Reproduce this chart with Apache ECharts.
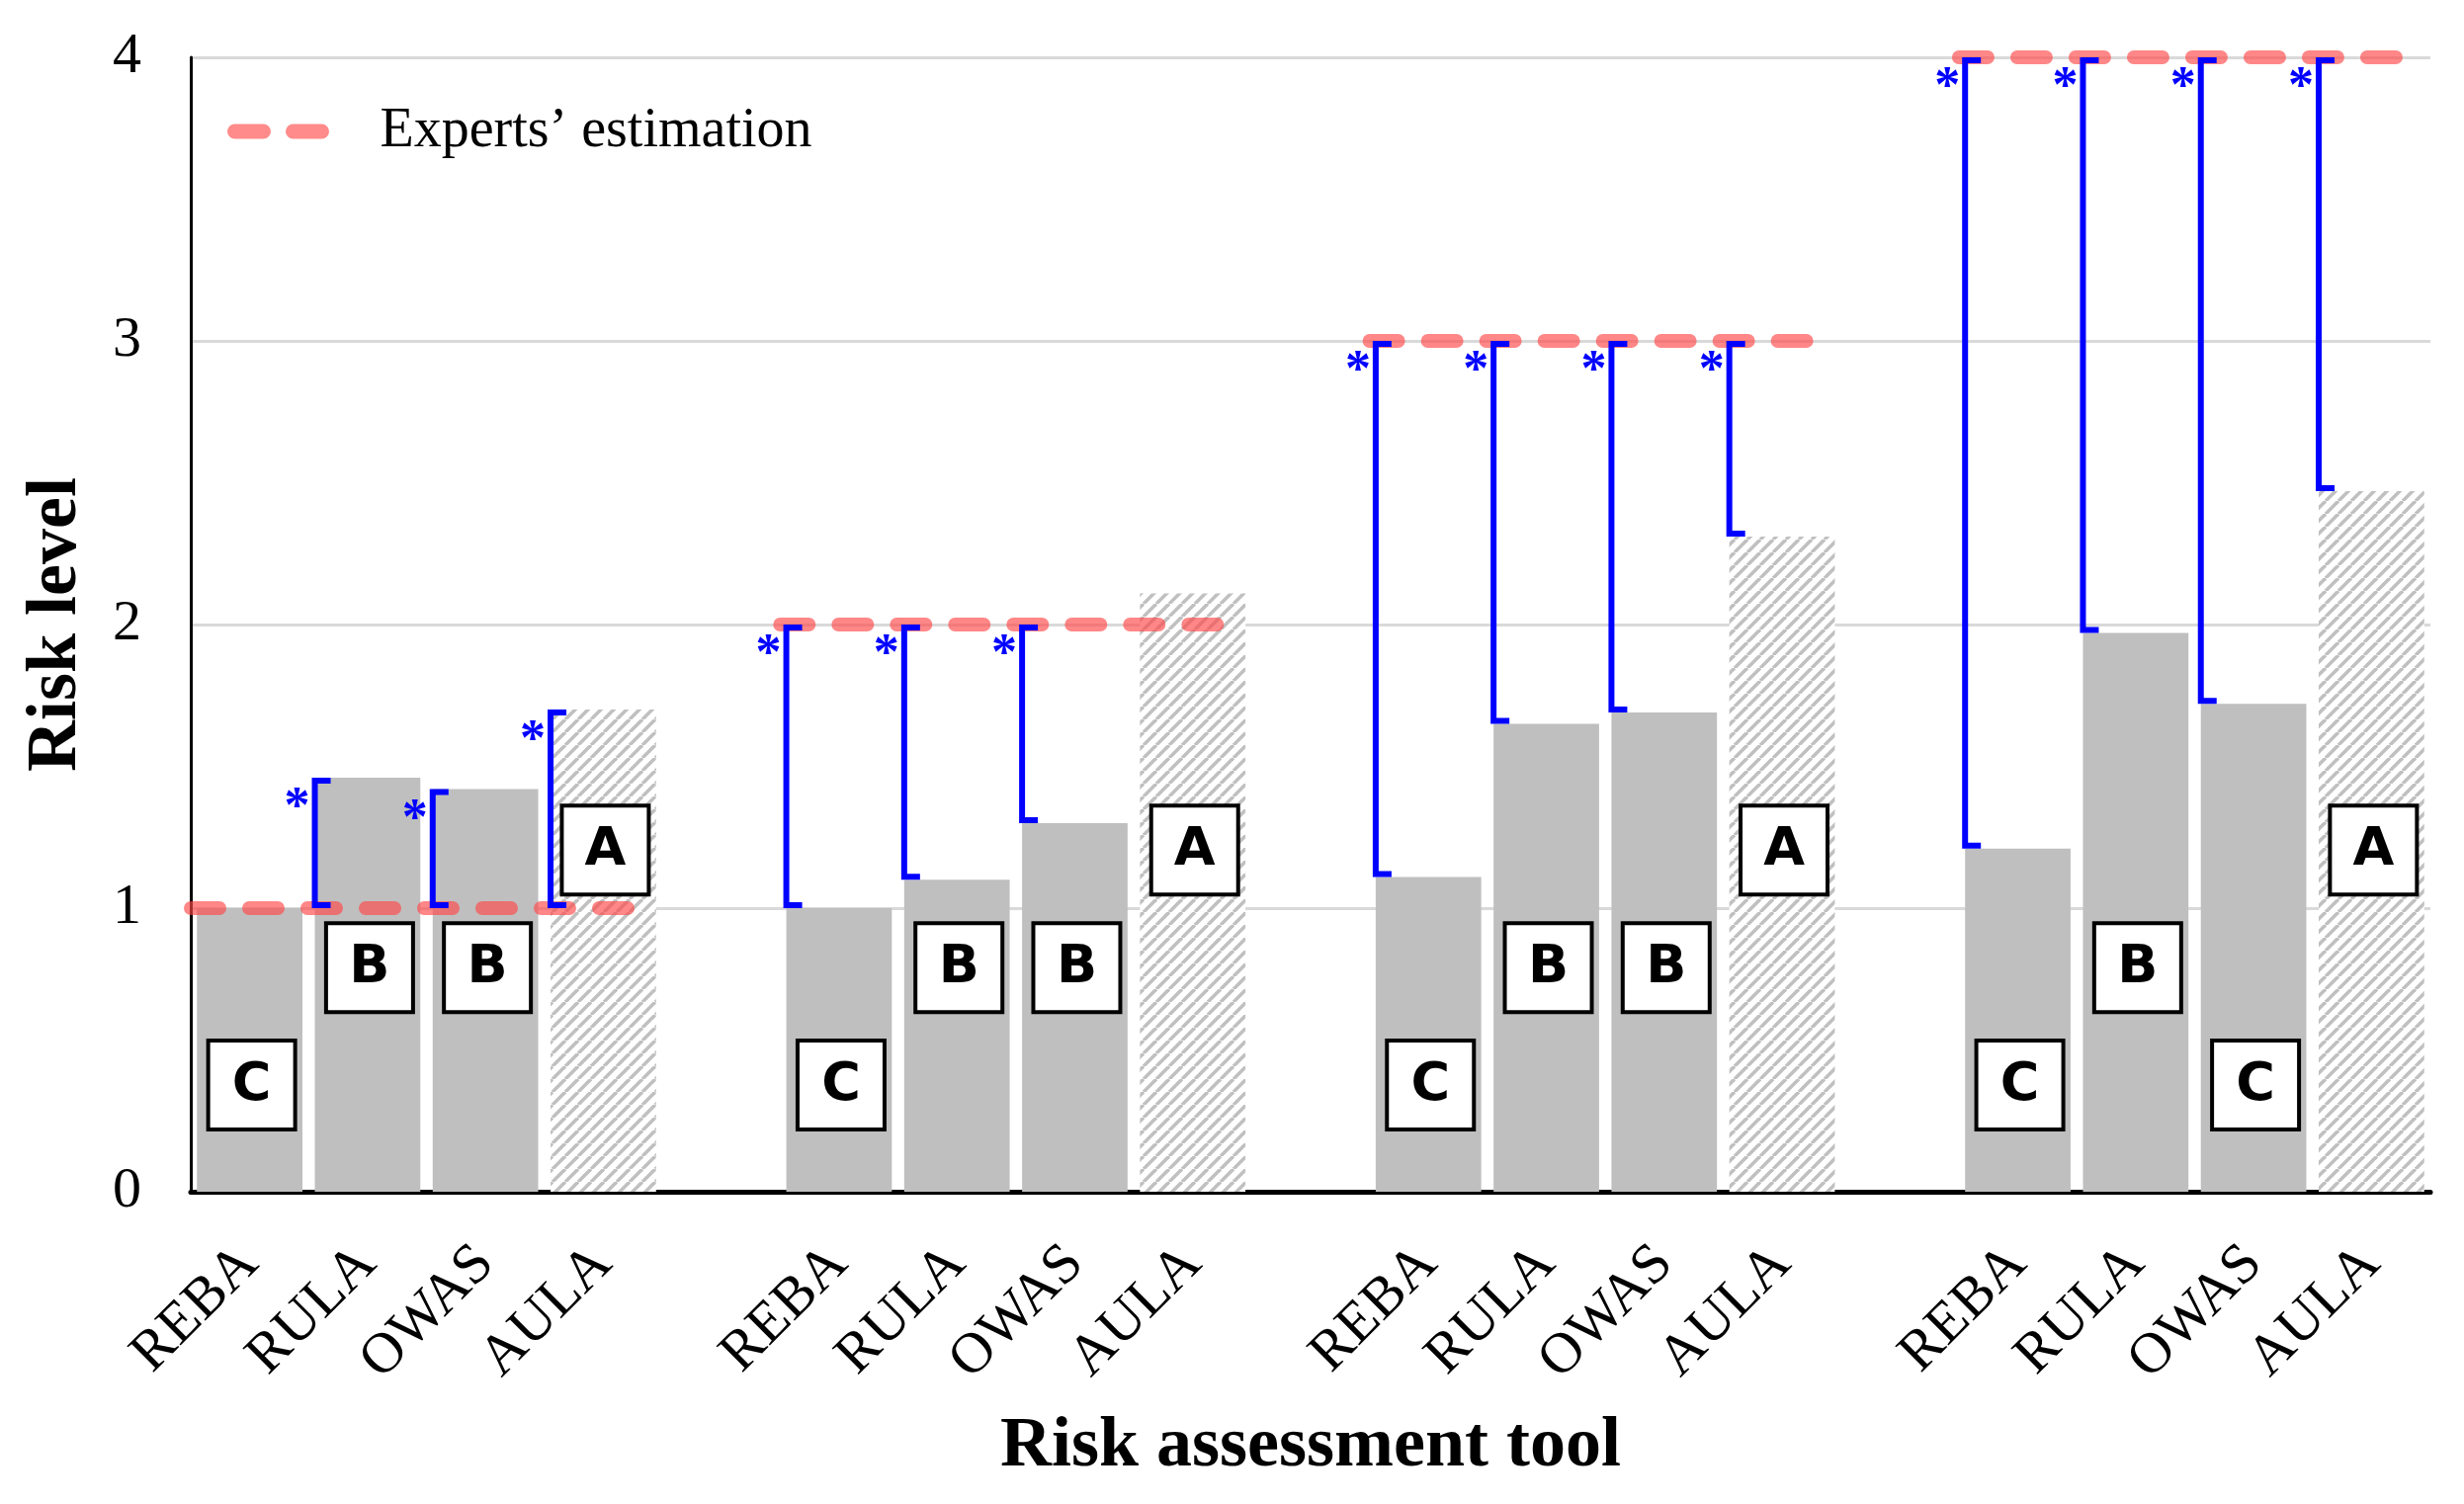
<!DOCTYPE html>
<html>
<head>
<meta charset="utf-8">
<script src="https://cdn.jsdelivr.net/npm/echarts@6/dist/echarts.min.js"></script>
<style>
html,body{margin:0;padding:0;background:#fff;}
#chart{width:2493px;height:1522px;}
</style>
</head>
<body>
<div id="chart"></div>
<script>
// ---------------- data ----------------
const tools = ['REBA', 'RULA', 'OWAS', 'AULA'];
const experts = [1, 2, 3, 4];                 // experts' estimation per group
const reba = [1.00, 1.00, 1.11, 1.21];
const rula = [1.46, 1.10, 1.65, 1.97];
const owas = [1.42, 1.30, 1.69, 1.72];
const aula = [1.70, 2.11, 2.31, 2.47];
const rebaGrade = ['C', 'C', 'C', 'C'];
const rulaGrade = ['B', 'B', 'B', 'B'];
const owasGrade = ['B', 'B', 'B', 'C'];
const aulaGrade = ['A', 'A', 'A', 'A'];
const rebaSig = [false, true, true, true];
const rulaSig = [true, true, true, true];
const owasSig = [true, true, true, true];
const aulaSig = [true, false, true, true];
const yTicks = [0, 1, 2, 3, 4];
const expertName = 'Experts\u2019 estimation';

// ---------------- build ----------------
const values = [reba, rula, owas, aula];
const grades = [rebaGrade, rulaGrade, owasGrade, aulaGrade];
const sigs = [rebaSig, rulaSig, owasSig, aulaSig];
const SLOT = tools.length + 1;
const nSlots = experts.length * SLOT - 1;
const categories = [];
for (let i = 0; i < nSlots; i++) categories.push(i % SLOT < tools.length ? tools[i % SLOT] : '');

const BAR_RATIO = 0.895;
const tile = document.createElement('canvas');
tile.width = 13; tile.height = 13;
(function () {
  const c = tile.getContext('2d');
  c.fillStyle = '#ffffff'; c.fillRect(0, 0, 13, 13);
  c.strokeStyle = '#c0c0c0'; c.lineWidth = 3.6;
  for (const o of [-13, 0, 13]) { c.beginPath(); c.moveTo(o, 13); c.lineTo(o + 13, 0); c.stroke(); }
})();
const hatch = { image: tile, repeat: 'repeat' };

const barData = [];
const bracketData = [];
const gradeData = [];
const gradeLetters = [];
for (let i = 0; i < nSlots; i++) barData.push('-');
experts.forEach((e, g) => {
  tools.forEach((t, k) => {
    const slot = g * SLOT + k;
    const v = values[k][g];
    barData[slot] = t === 'AULA'
      ? { value: v, itemStyle: { color: hatch } }
      : { value: v, itemStyle: { color: '#bfbfbf' } };
    if (sigs[k][g]) bracketData.push([slot, v, e]);
    gradeData.push([slot, 0]);
    gradeLetters.push(grades[k][g]);
  });
});
const letterLevel = { A: 1.205, B: 0.79, C: 0.376 };

const dashColor = 'rgba(255,70,70,0.65)';
const dashStyle = { color: dashColor, width: 14, type: [29, 30], cap: 'round' };
const lineSeries = experts.map((e, g) => ({
  type: 'line',
  name: expertName,
  xAxisIndex: 1,
  data: [[g * SLOT, e], [g * SLOT + 3.82, e]],
  symbol: 'none',
  z: 3,
  lineStyle: dashStyle,
  itemStyle: { color: dashColor },
  silent: true
}));

const chart = echarts.init(document.getElementById('chart'), null, { renderer: 'canvas' });
chart.setOption({
  animation: false,
  backgroundColor: '#ffffff',
  grid: { left: 193, right: 34, top: 58, bottom: 316, containLabel: false },
  legend: {
    show: true, left: 225, top: 100, itemWidth: 102, itemHeight: 15,
    data: [expertName],
    itemStyle: { opacity: 0 },
    lineStyle: { color: 'rgba(255,100,100,0.75)', width: 15, type: [29, 30], cap: 'round' },
    textStyle: { fontFamily: 'Liberation Serif', fontSize: 56, color: '#000', padding: [0, 0, 0, 40] }
  },
  xAxis: [{
    type: 'category', data: categories, boundaryGap: true,
    axisLine: { show: true, lineStyle: { color: '#000', width: 5 } },
    axisTick: { show: false },
    axisLabel: { interval: 0, rotate: 45, margin: 64, fontFamily: 'Liberation Serif', fontSize: 58, color: '#000' },
    name: 'Risk assessment tool', nameLocation: 'middle', nameGap: 222,
    nameTextStyle: { fontFamily: 'Liberation Serif', fontWeight: 'bold', fontSize: 72, color: '#000' }
  }, {
    type: 'value', min: 0, max: nSlots, show: false
  }],
  yAxis: {
    type: 'value', min: yTicks[0], max: yTicks[yTicks.length - 1], interval: 1,
    axisLine: { show: true, lineStyle: { color: '#000', width: 3 } },
    axisTick: { show: false },
    splitLine: { lineStyle: { color: '#d9d9d9', width: 3 } },
    axisLabel: { margin: 50, fontFamily: 'Liberation Serif', fontSize: 58, color: '#000' },
    name: 'Risk level', nameLocation: 'middle', nameGap: 100,
    nameTextStyle: { fontFamily: 'Liberation Serif', fontWeight: 'bold', fontSize: 72, color: '#000' }
  },
  series: [
    { type: 'bar', data: barData, barWidth: (BAR_RATIO * 100) + '%', z: 2, silent: true },
    ...lineSeries,
    {
      type: 'custom', xAxisIndex: 0, z: 4, silent: true,
      data: bracketData, encode: { x: 0, y: [1, 2] },
      renderItem: function (params, api) {
        const slot = api.value(0);
        const c1 = api.coord([slot, api.value(1)]);
        const c2 = api.coord([slot, api.value(2)]);
        const bw = api.size([1, 0])[0] * BAR_RATIO;
        const x = c1[0] - bw / 2;
        const yTop = Math.min(c1[1], c2[1]) + 3;
        const yBot = Math.max(c1[1], c2[1]) - 3;
        return {
          type: 'group', children: [
            { type: 'polyline', shape: { points: [[x + 16, yTop], [x, yTop], [x, yBot], [x + 16, yBot]] },
              style: { stroke: '#0000ff', lineWidth: 6, fill: null, lineJoin: 'miter', lineCap: 'butt' } },
            { type: 'text', x: x - 18, y: yTop + 29,
              style: { text: '*', fill: '#0000ff', font: 'bold 52px "Liberation Serif"', align: 'center', verticalAlign: 'middle' } }
          ]
        };
      }
    },
    {
      type: 'custom', xAxisIndex: 0, z: 5, silent: true,
      data: gradeData, encode: { x: 0, y: 1 },
      renderItem: function (params, api) {
        const slot = api.value(0);
        const letter = gradeLetters[params.dataIndex];
        const c = api.coord([slot, letterLevel[letter]]);
        const w = 88, h = 90;
        return {
          type: 'group', children: [
            { type: 'rect', shape: { x: c[0] - w / 2 + 2, y: c[1] - h / 2, width: w, height: h },
              style: { fill: '#ffffff', stroke: '#000000', lineWidth: 4 } },
            { type: 'text', x: c[0] + 2, y: c[1] + 1,
              style: { text: letter, fill: '#000', font: 'bold 54px "DejaVu Sans"', align: 'center', verticalAlign: 'middle' } }
          ]
        };
      }
    }
  ]
});
</script>
</body>
</html>
